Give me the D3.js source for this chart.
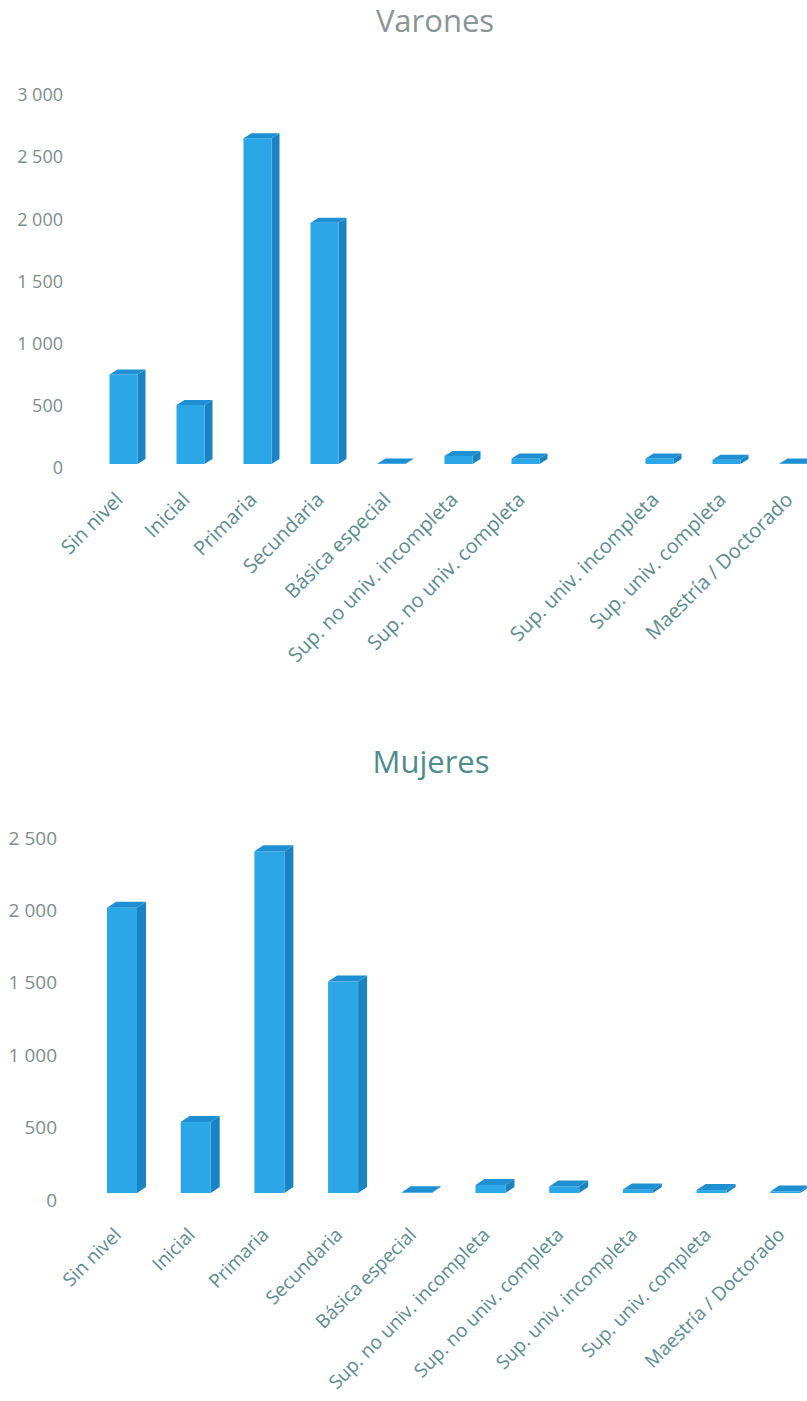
<!DOCTYPE html>
<html>
<head>
<meta charset="utf-8">
<script src="https://cdn.jsdelivr.net/npm/d3@7"></script>
<style>
  body { margin: 0; background: #fff; }
  svg { display: block; font-family: "Open Sans", sans-serif; }
</style>
</head>
<body>
<div id="chart"></div>
<script>
// datos
var catsVarones = ["Sin nivel", "Inicial", "Primaria", "Secundaria", "Básica especial",
  "Sup. no univ. incompleta", "Sup. no univ. completa", "", "Sup. univ. incompleta",
  "Sup. univ. completa", "Maestría / Doctorado"];
var valsVarones = [720, 475, 2620, 1940, 5, 65, 45, null, 45, 35, 5];
var ticksVarones = [0, 500, 1000, 1500, 2000, 2500, 3000];

var catsMujeres = ["Sin nivel", "Inicial", "Primaria", "Secundaria", "Básica especial",
  "Sup. no univ. incompleta", "Sup. no univ. completa", "Sup. univ. incompleta",
  "Sup. univ. completa", "Maestría / Doctorado"];
var valsMujeres = [1970, 490, 2360, 1460, 5, 55, 45, 25, 20, 10];
var ticksMujeres = [0, 500, 1000, 1500, 2000, 2500];

(function() {
  var width = 807, height = 1401;

  var svg = d3.select("#chart").append("svg")
              .attr("width", width)
              .attr("height", height);

  var fmt = d3.formatLocale({decimal: ",", thousands: " ", grouping: [3], currency: ["", ""]}).format(",");

  function drawChart(opt) {
    var g = svg.append("g");

    g.append("text")
      .attr("x", opt.titleX).attr("y", opt.titleY)
      .attr("text-anchor", "middle")
      .style("font-size", "31px")
      .style("fill", opt.titleColor)
      .text(opt.title);

    var y = d3.scaleLinear().domain(opt.yDomain).range(opt.yRange);
    var x = d3.scalePoint().domain(d3.range(opt.cats.length)).range(opt.xRange);

    // eje y, sin linea
    var yAxis = g.append("g")
      .attr("transform", "translate(" + opt.axisX + ",0)")
      .call(d3.axisLeft(y).tickValues(opt.ticks).tickSize(0).tickPadding(0).tickFormat(fmt));
    yAxis.select(".domain").remove();
    yAxis.selectAll("text")
      .style("font-family", "Open Sans")
      .style("font-size", opt.tickSize)
      .style("fill", "#7d8d8d");

    // eje x con etiquetas giradas
    var xAxis = g.append("g")
      .attr("transform", "translate(0," + opt.labelY + ")")
      .call(d3.axisBottom(x).tickSize(0).tickFormat(function(i) { return opt.cats[i]; }));
    xAxis.select(".domain").remove();
    xAxis.selectAll("text")
      .attr("x", null).attr("y", null).attr("dy", null)
      .attr("text-anchor", "end")
      .attr("transform", "translate(" + opt.labelDx + ",0) rotate(-45)")
      .style("font-family", "Open Sans")
      .style("font-size", opt.labelSize)
      .style("fill", "#5b8b8e");

    var w = opt.barW, dx = opt.dx, dy = opt.dy, k = opt.offset;
    var data = opt.vals.map(function(v, i) { return {i: i, v: v}; })
                   .filter(function(d) { return d.v != null; });

    var bars = g.selectAll(".bar").data(data).enter().append("g").attr("class", "bar");

    function top(d) { return y(d.v) - k; }
    function bottom() { return y(0) - k; }

    bars.append("polygon")
      .attr("fill", "#1a84c2")
      .attr("points", function(d) {
        var r = x(d.i) + w / 2;
        return [[r, top(d)], [r + dx, top(d) - dy], [r + dx, bottom() - dy], [r, bottom()]].join(" ");
      });

    bars.append("rect")
      .attr("fill", "#2ba6e6")
      .attr("x", function(d) { return x(d.i) - w / 2; })
      .attr("y", top)
      .attr("width", w)
      .attr("height", function(d) { return bottom() - top(d); });

    bars.append("polygon")
      .attr("fill", "#1d8fd2")
      .attr("points", function(d) {
        var l = x(d.i) - w / 2, r = x(d.i) + w / 2, t = top(d);
        return [[l, t], [r, t], [r + dx, t - dy], [l + dx, t - dy]].join(" ");
      });
  }

  drawChart({
    title: "Varones", titleX: 435, titleY: 32, titleColor: "#8a9595",
    cats: catsVarones, vals: valsVarones, ticks: ticksVarones,
    yDomain: [0, 3000], yRange: [468, 95], xRange: [123.5, 793.5],
    axisX: 63, tickSize: "18px", labelY: 501, labelDx: 0, labelSize: "20px",
    barW: 28, dx: 8, dy: 5, offset: 4
  });

  drawChart({
    title: "Mujeres", titleX: 431, titleY: 773, titleColor: "#4f8a8c",
    cats: catsMujeres, vals: valsMujeres, ticks: ticksMujeres,
    yDomain: [0, 2500], yRange: [1200, 838], xRange: [122, 785.3],
    axisX: 57, tickSize: "19px", labelY: 1236, labelDx: 0, labelSize: "19px",
    barW: 30, dx: 9, dy: 6, offset: 7
  });
})();
</script>
</body>
</html>
